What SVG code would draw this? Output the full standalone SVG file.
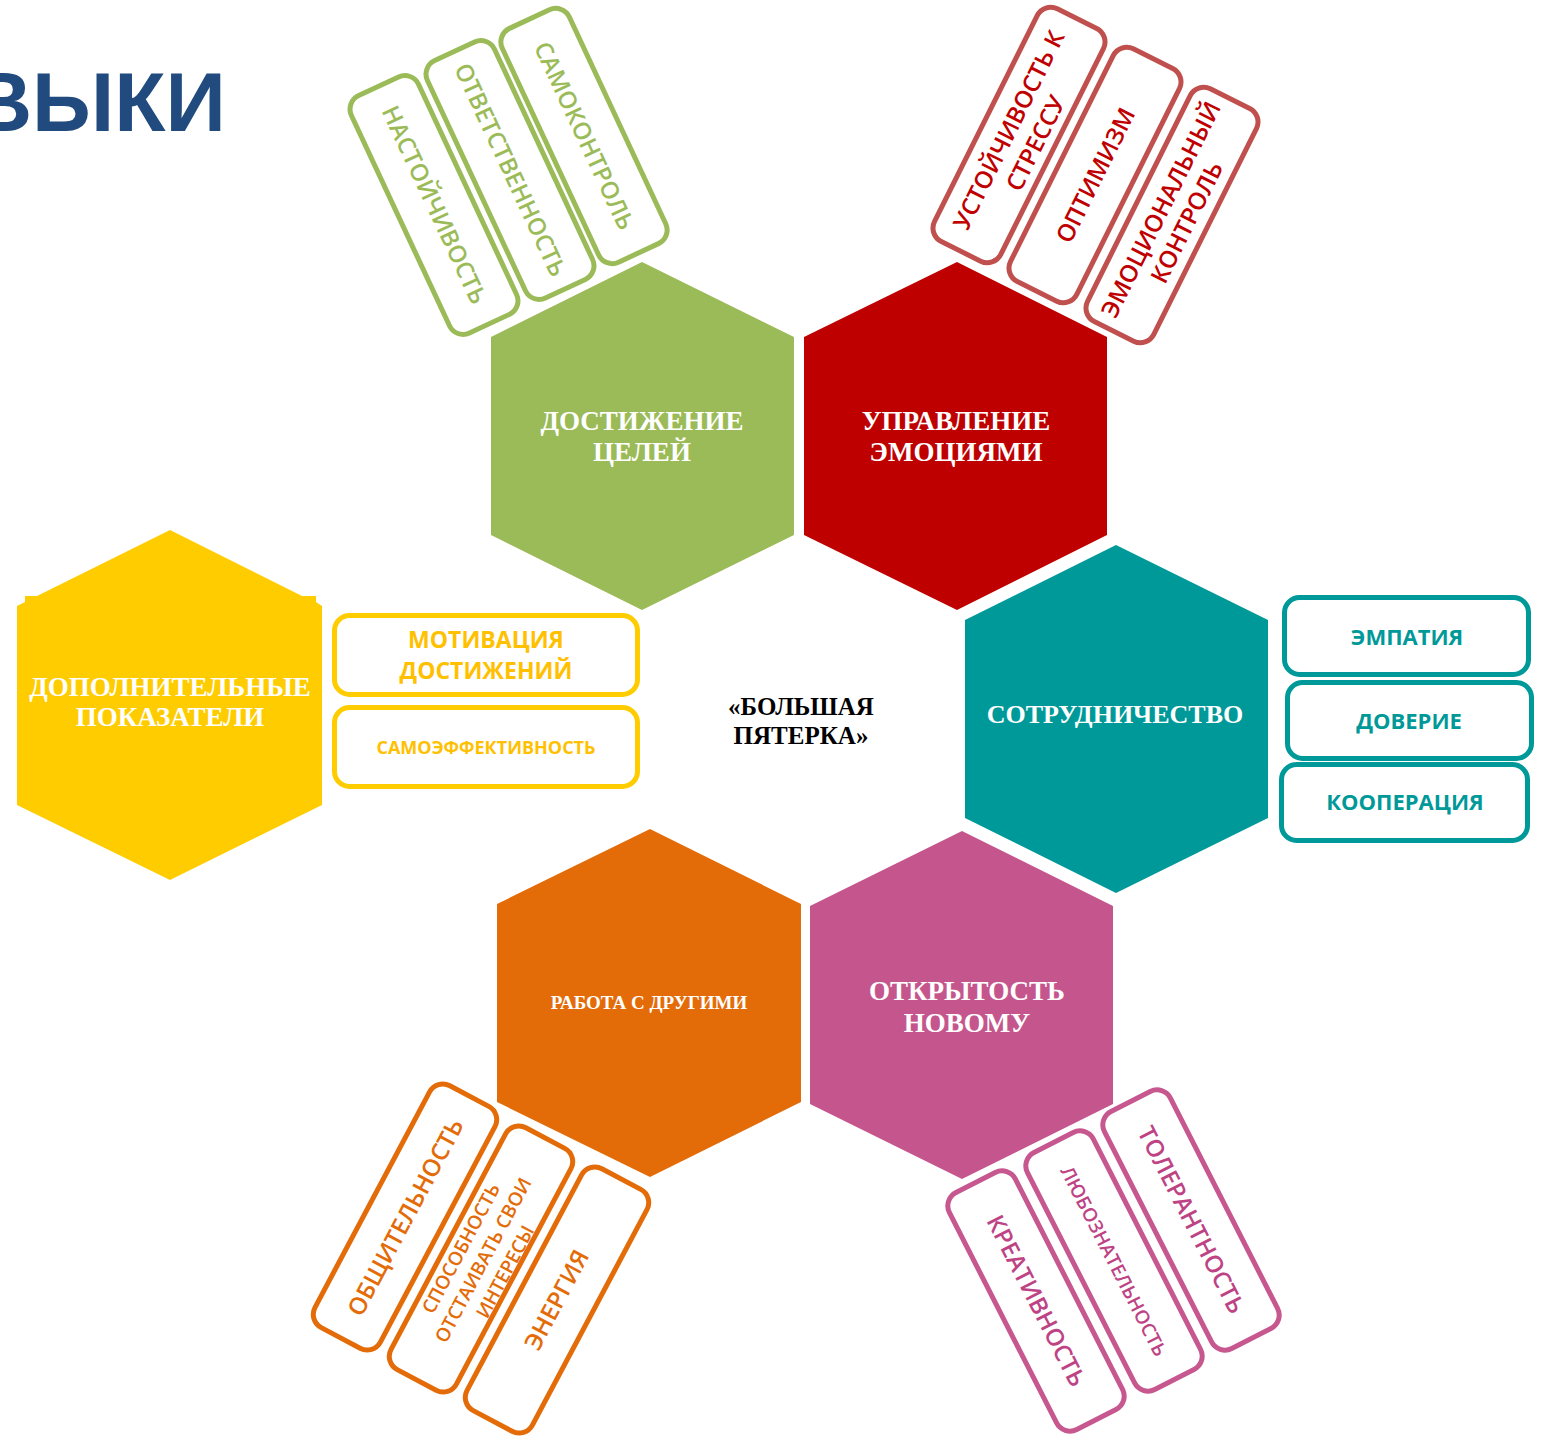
<svg xmlns="http://www.w3.org/2000/svg" width="1547" height="1440" viewBox="0 0 1547 1440">
<style>
.hl{font-family:"Liberation Serif","DejaVu Serif",serif;font-weight:bold;fill:#ffffff;text-anchor:middle}
.box{fill:#ffffff;stroke-width:5}
.t{font-family:"Open Sans","Noto Sans",sans-serif;text-anchor:middle;font-size:24px;font-weight:600}
.s{font-size:19px}
.g .box{stroke:#9BBB59}.g .t{fill:#9BBB59}
.r .box{stroke:#C0504D}.r .t{fill:#C00000}
.o .box{stroke:#E36C09}.o .t{fill:#E36C09}
.p .box{stroke:#C6578F}.p .t{fill:#BE4385}
.c .box{stroke:#009999}.c .t{fill:#009999;font-weight:bold;font-size:22px}
.y .box{stroke:#FFCC00}.y .t{fill:#FFC000;font-weight:bold}
</style>
<rect width="1547" height="1440" fill="#ffffff"/>
<text x="226" y="131" font-family="Liberation Sans,Arial,sans-serif" font-weight="bold" font-size="84" fill="#214A7E" text-anchor="end">ВЫКИ</text>

<g id="goals" class="g">
  <polygon points="642,262 794,337 794,535 642,610 491,535 491,337" fill="#9BBB59"/>
  <text class="hl" x="642" y="430" font-size="27">ДОСТИЖЕНИЕ</text>
  <text class="hl" x="642" y="461" font-size="27">ЦЕЛЕЙ</text>
  <g transform="translate(434,205) rotate(65)"><rect class="box" x="-131" y="-37" width="262" height="74" rx="15"/><text class="t" y="8">НАСТОЙЧИВОСТЬ</text></g>
  <g transform="translate(510,170) rotate(65)"><rect class="box" x="-131" y="-37" width="262" height="74" rx="15"/><text class="t" y="8">ОТВЕТСТВЕННОСТЬ</text></g>
  <g transform="translate(584,136) rotate(65)"><rect class="box" x="-129" y="-37" width="258" height="74" rx="15"/><text class="t" y="8">САМОКОНТРОЛЬ</text></g>
</g>

<g id="emotions" class="r">
  <polygon points="957,262 1107,337 1107,535 957,610 804,535 804,337" fill="#BF0000"/>
  <text class="hl" x="956" y="430" font-size="27">УПРАВЛЕНИЕ</text>
  <text class="hl" x="956" y="461" font-size="27">ЭМОЦИЯМИ</text>
  <g transform="translate(1019,135) rotate(-63.5)"><rect class="box" x="-130" y="-37" width="260" height="74" rx="15"/><text class="t" y="-3">УСТОЙЧИВОСТЬ К</text><text class="t" y="27">СТРЕССУ</text></g>
  <g transform="translate(1095,175) rotate(-63.5)"><rect class="box" x="-130" y="-37" width="260" height="74" rx="15"/><text class="t" y="9">ОПТИМИЗМ</text></g>
  <g transform="translate(1172,215) rotate(-63.5)"><rect class="box" x="-130" y="-37" width="260" height="74" rx="15"/><text class="t" y="-4">ЭМОЦИОНАЛЬНЫЙ</text><text class="t" y="25">КОНТРОЛЬ</text></g>
</g>

<g id="cooperation" class="c">
  <polygon points="1116,545 1268,620 1268,818 1116,893 965,818 965,620" fill="#009999"/>
  <text class="hl" x="1115" y="723" font-size="26">СОТРУДНИЧЕСТВО</text>
  <rect class="box" x="1284.5" y="597.5" width="244" height="77" rx="15"/>
  <text class="t" x="1407" y="645">ЭМПАТИЯ</text>
  <rect class="box" x="1287.5" y="682.5" width="244" height="76" rx="15"/>
  <text class="t" x="1409" y="729">ДОВЕРИЕ</text>
  <rect class="box" x="1281.5" y="764.5" width="246" height="76" rx="15"/>
  <text class="t" x="1405" y="810">КООПЕРАЦИЯ</text>
</g>

<g id="openness" class="p">
  <polygon points="962,831 1113,906 1113,1104 962,1179 810,1104 810,906" fill="#C5568D"/>
  <text class="hl" x="967" y="1000" font-size="27">ОТКРЫТОСТЬ</text>
  <text class="hl" x="967" y="1032" font-size="27">НОВОМУ</text>
  <g transform="translate(1036,1301) rotate(63)"><rect class="box" x="-133" y="-37" width="266" height="74" rx="15"/><text class="t" y="8">КРЕАТИВНОСТЬ</text></g>
  <g transform="translate(1114,1261) rotate(63)"><rect class="box" x="-133" y="-37" width="266" height="74" rx="15"/><text class="t s" y="7">ЛЮБОЗНАТЕЛЬНОСТЬ</text></g>
  <g transform="translate(1191,1220) rotate(63)"><rect class="box" x="-133" y="-37" width="266" height="74" rx="15"/><text class="t" y="8">ТОЛЕРАНТНОСТЬ</text></g>
</g>

<g id="others" class="o">
  <polygon points="650,829 801,904 801,1102 650,1177 497,1102 497,904" fill="#E36C09"/>
  <text class="hl" x="649" y="1009" font-size="19">РАБОТА С ДРУГИМИ</text>
  <g transform="translate(405,1217) rotate(-62)"><rect class="box" x="-137" y="-37" width="274" height="74" rx="15"/><text class="t" y="9">ОБЩИТЕЛЬНОСТЬ</text></g>
  <g transform="translate(481,1259) rotate(-62)"><rect class="box" x="-137" y="-37" width="274" height="74" rx="15"/><text class="t s" y="-16">СПОСОБНОСТЬ</text><text class="t s" y="9">ОТСТАИВАТЬ СВОИ</text><text class="t s" y="34">ИНТЕРЕСЫ</text></g>
  <g transform="translate(557,1300) rotate(-62)"><rect class="box" x="-137" y="-37" width="274" height="74" rx="15"/><text class="t" y="8">ЭНЕРГИЯ</text></g>
</g>

<g id="additional" class="y">
  <polygon points="170,530 302,596 316,596 316,602 322,606 322,805 170,880 17,805 17,606 25,602 25,596 37,596" fill="#FFCC00"/>
  <text class="hl" x="170" y="696" font-size="27">ДОПОЛНИТЕЛЬНЫЕ</text>
  <text class="hl" x="170" y="726" font-size="27">ПОКАЗАТЕЛИ</text>
  <rect class="box" x="334.5" y="615.5" width="303" height="79" rx="15"/>
  <text class="t" x="486" y="648" style="font-size:23px">МОТИВАЦИЯ</text>
  <text class="t" x="486" y="679" style="font-size:23px">ДОСТИЖЕНИЙ</text>
  <rect class="box" x="334.5" y="707.5" width="303" height="79" rx="15"/>
  <text class="t" x="486" y="754" style="font-size:18px">САМОЭФФЕКТИВНОСТЬ</text>
</g>

<g id="center">
  <text x="801" y="715" font-family="Liberation Serif,serif" font-weight="bold" font-size="25" text-anchor="middle" fill="#000000">«БОЛЬШАЯ</text>
  <text x="801" y="744" font-family="Liberation Serif,serif" font-weight="bold" font-size="25" text-anchor="middle" fill="#000000">ПЯТЕРКА»</text>
</g>
<g id="connectors"/>
</svg>
